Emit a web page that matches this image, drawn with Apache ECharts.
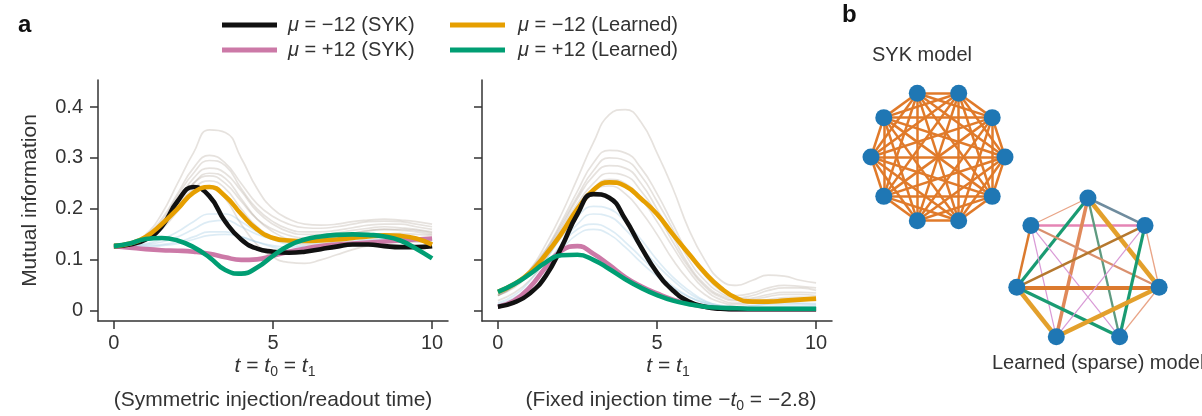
<!DOCTYPE html>
<html><head><meta charset="utf-8">
<script src="https://cdn.jsdelivr.net/npm/echarts@6/dist/echarts.min.js"></script>
<style>html,body{margin:0;padding:0;background:#fff}#c{width:1202px;height:416px}</style>
</head><body><div id="c"></div>
<script>
// ---------- data ----------
const tGrid = [0,0.5,1,1.5,2,2.5,3,3.5,4,4.5,5,5.5,6,6.5,7,7.5,8,8.5,9,9.5,10];
const xTicks = [0,5,10];
const yTicks = [0,0.1,0.2,0.3,0.4];
const seriesNames = ['μ = −12 (SYK)','μ = −12 (Learned)','μ = +12 (SYK)','μ = +12 (Learned)'];

// panel a, left: symmetric injection/readout time
const leftSykNeg   = [0.127,0.130,0.140,0.165,0.215,0.243,0.225,0.175,0.140,0.122,0.116,0.114,0.116,0.121,0.126,0.130,0.130,0.127,0.125,0.125,0.127];
const leftLrnNeg   = [0.127,0.132,0.145,0.170,0.200,0.232,0.243,0.225,0.190,0.160,0.143,0.138,0.137,0.138,0.140,0.143,0.146,0.148,0.147,0.142,0.130];
const leftSykPos   = [0.127,0.124,0.121,0.119,0.118,0.116,0.112,0.105,0.100,0.101,0.108,0.116,0.122,0.127,0.130,0.132,0.134,0.136,0.138,0.140,0.142];
const leftLrnPos   = [0.127,0.132,0.141,0.143,0.138,0.125,0.105,0.080,0.073,0.085,0.108,0.128,0.140,0.146,0.149,0.150,0.149,0.146,0.138,0.122,0.103];
const leftGrayRuns = [
  [0.127,0.132,0.150,0.190,0.250,0.310,0.355,0.350,0.300,0.240,0.200,0.180,0.170,0.168,0.170,0.175,0.178,0.180,0.178,0.175,0.170],
  [0.127,0.132,0.148,0.180,0.230,0.280,0.305,0.290,0.250,0.210,0.185,0.170,0.163,0.162,0.165,0.170,0.175,0.176,0.175,0.170,0.165],
  [0.127,0.130,0.145,0.175,0.225,0.270,0.295,0.285,0.240,0.200,0.175,0.160,0.155,0.155,0.158,0.163,0.168,0.170,0.170,0.165,0.160],
  [0.127,0.130,0.143,0.170,0.215,0.260,0.280,0.270,0.235,0.195,0.170,0.155,0.150,0.150,0.153,0.158,0.162,0.165,0.163,0.160,0.155],
  [0.127,0.130,0.142,0.168,0.210,0.250,0.265,0.250,0.215,0.180,0.160,0.148,0.143,0.143,0.147,0.152,0.157,0.160,0.160,0.158,0.153],
  [0.127,0.130,0.140,0.165,0.205,0.240,0.255,0.240,0.200,0.165,0.145,0.135,0.130,0.130,0.135,0.140,0.145,0.150,0.152,0.150,0.148],
  [0.127,0.130,0.140,0.160,0.195,0.230,0.245,0.220,0.170,0.130,0.105,0.095,0.093,0.100,0.110,0.120,0.128,0.132,0.135,0.135,0.135],
  [0.127,0.130,0.140,0.165,0.210,0.250,0.270,0.260,0.220,0.180,0.155,0.140,0.135,0.138,0.145,0.152,0.158,0.160,0.158,0.155,0.150]
];
const leftBlueRuns = [
  [0.127,0.128,0.130,0.135,0.145,0.160,0.175,0.178,0.165,0.150,0.140,0.135,0.133,0.133,0.135,0.138,0.140,0.142,0.143,0.143,0.142],
  [0.127,0.127,0.128,0.130,0.135,0.145,0.155,0.155,0.145,0.135,0.128,0.125,0.125,0.127,0.130,0.133,0.135,0.137,0.138,0.138,0.137],
  [0.127,0.128,0.132,0.140,0.155,0.175,0.190,0.190,0.175,0.155,0.140,0.130,0.127,0.127,0.130,0.134,0.138,0.140,0.140,0.140,0.138],
  [0.127,0.126,0.126,0.128,0.132,0.140,0.148,0.150,0.145,0.135,0.125,0.120,0.120,0.123,0.128,0.132,0.135,0.138,0.140,0.140,0.140]
];

// panel a, right: fixed injection time
const rightSykNeg  = [0.008,0.016,0.034,0.068,0.125,0.190,0.229,0.222,0.180,0.125,0.075,0.040,0.018,0.008,0.004,0.003,0.003,0.003,0.003,0.003,0.003];
const rightLrnNeg  = [0.037,0.052,0.075,0.110,0.152,0.200,0.237,0.252,0.245,0.220,0.190,0.150,0.112,0.075,0.045,0.025,0.018,0.018,0.020,0.022,0.024];
const rightSykPos  = [0.008,0.020,0.046,0.085,0.118,0.127,0.112,0.090,0.066,0.048,0.034,0.022,0.014,0.008,0.005,0.003,0.003,0.003,0.003,0.003,0.003];
const rightLrnPos  = [0.037,0.052,0.072,0.095,0.109,0.110,0.100,0.082,0.062,0.045,0.031,0.020,0.013,0.008,0.006,0.005,0.004,0.004,0.004,0.004,0.004];
const rightGrayRuns = [
  [0.030,0.050,0.080,0.130,0.190,0.260,0.330,0.385,0.395,0.370,0.310,0.240,0.160,0.100,0.060,0.050,0.060,0.070,0.068,0.060,0.055],
  [0.030,0.050,0.080,0.120,0.175,0.235,0.290,0.315,0.310,0.280,0.230,0.170,0.110,0.070,0.040,0.030,0.035,0.045,0.050,0.048,0.045],
  [0.030,0.048,0.078,0.118,0.170,0.225,0.275,0.300,0.295,0.265,0.215,0.160,0.100,0.060,0.035,0.025,0.030,0.040,0.045,0.045,0.040],
  [0.030,0.047,0.075,0.115,0.165,0.220,0.265,0.285,0.280,0.250,0.200,0.145,0.090,0.052,0.030,0.022,0.025,0.032,0.036,0.036,0.035],
  [0.035,0.050,0.077,0.113,0.160,0.210,0.250,0.270,0.265,0.235,0.190,0.135,0.085,0.048,0.027,0.020,0.022,0.028,0.032,0.032,0.030],
  [0.030,0.045,0.072,0.108,0.155,0.200,0.240,0.258,0.250,0.220,0.175,0.125,0.078,0.042,0.022,0.015,0.017,0.022,0.026,0.027,0.026],
  [0.020,0.035,0.060,0.100,0.150,0.200,0.235,0.245,0.230,0.195,0.150,0.100,0.060,0.032,0.017,0.012,0.015,0.020,0.022,0.022,0.020]
];
const rightBlueRuns = [
  [0.010,0.022,0.045,0.085,0.130,0.170,0.190,0.185,0.160,0.125,0.090,0.060,0.035,0.018,0.010,0.008,0.010,0.012,0.013,0.013,0.012],
  [0.012,0.025,0.050,0.090,0.130,0.160,0.170,0.160,0.135,0.105,0.075,0.048,0.028,0.015,0.008,0.006,0.007,0.008,0.009,0.009,0.009],
  [0.015,0.030,0.058,0.100,0.145,0.185,0.205,0.200,0.175,0.140,0.100,0.066,0.040,0.020,0.010,0.008,0.010,0.014,0.016,0.015,0.014],
  [0.010,0.022,0.045,0.080,0.120,0.150,0.160,0.150,0.125,0.095,0.068,0.045,0.027,0.015,0.008,0.005,0.005,0.006,0.007,0.007,0.007]
];

// panel b: node angles (degrees) and edges
const sykNodeAngles = [0,36,72,108,144,180,216,252,288,324];
const learnedNodeAngles = [90,38.57,-12.86,-64.29,-115.71,-167.14,141.43];
const learnedEdges = [
  [0,1,'slate'],[0,6,'salmon'],[6,1,'pink'],[0,5,'green'],[0,4,'orangeL'],[0,3,'greenM'],[0,2,'gold'],
  [6,2,'salmonM'],[6,5,'orangeM'],[6,3,'lilac'],[6,4,'lilac'],[5,1,'olive'],[5,2,'orange'],[5,4,'gold'],
  [5,3,'green'],[1,3,'green'],[1,4,'lilac'],[1,2,'salmon'],[4,2,'gold'],[3,2,'salmon']
];

// ---------- styles ----------
const FONT = "'Liberation Sans', Arial, Helvetica, sans-serif";
const TXT = '#333';
const C = {sykNeg:'#111111', lrnNeg:'#E69F00', sykPos:'#CC79A7', lrnPos:'#009E73'};
const NODE = '#1F77B4';
const GRAY_RUN = 'rgba(165,150,135,0.28)';
const BLUE_RUN = 'rgba(150,195,225,0.32)';
const edgeStyles = {
  orange:{color:'#DB7A2E',width:4}, orangeM:{color:'#DB7A2E',width:2.5}, orangeL:{color:'#E0895A',width:3.5},
  gold:{color:'#E3A02C',width:4.5}, green:{color:'#1A9B72',width:3.2}, greenM:{color:'#5E9A80',width:2.3},
  pink:{color:'#E584B4',width:2.5}, lilac:{color:'#D99AD6',width:1.2}, salmon:{color:'#E9A486',width:1.3},
  salmonM:{color:'#D9906E',width:2.2}, slate:{color:'#6F8C9E',width:2.5}, olive:{color:'#B5782E',width:2.5}
};

function mk(name, gi, vals, color, width, z) {
  return {type:'line', name:name, xAxisIndex:gi, yAxisIndex:gi,
    data: tGrid.map((t,i)=>[t, vals[i]]), smooth:true, symbol:'none', showSymbol:false,
    lineStyle:{color:color, width:width}, itemStyle:{color:color}, z:z, silent:true,
    emphasis:{disabled:true}};
}
const series = [];
leftGrayRuns.forEach(v=>series.push(mk('', 0, v, GRAY_RUN, 1.7, 1)));
leftBlueRuns.forEach(v=>series.push(mk('', 0, v, BLUE_RUN, 1.7, 1)));
rightGrayRuns.forEach(v=>series.push(mk('', 1, v, GRAY_RUN, 1.7, 1)));
rightBlueRuns.forEach(v=>series.push(mk('', 1, v, BLUE_RUN, 1.7, 1)));
series.push(mk(seriesNames[2], 0, leftSykPos, C.sykPos, 4.6, 3));
series.push(mk(seriesNames[0], 0, leftSykNeg, C.sykNeg, 4.6, 4));
series.push(mk(seriesNames[1], 0, leftLrnNeg, C.lrnNeg, 4.6, 5));
series.push(mk(seriesNames[3], 0, leftLrnPos, C.lrnPos, 4.6, 6));
series.push(mk(seriesNames[2], 1, rightSykPos, C.sykPos, 4.6, 3));
series.push(mk(seriesNames[1], 1, rightLrnNeg, C.lrnNeg, 4.6, 4));
series.push(mk(seriesNames[0], 1, rightSykNeg, C.sykNeg, 4.6, 5));
series.push(mk(seriesNames[3], 1, rightLrnPos, C.lrnPos, 4.6, 6));

// panel b: nodes on unit circles (angles -> cos/sin), placed through hidden cartesian axes
const rad = d => d*Math.PI/180;
const sykPts = sykNodeAngles.map(a=>[Math.cos(rad(a)), Math.sin(rad(a))]);
const lrnPts = learnedNodeAngles.map(a=>[Math.cos(rad(a)), Math.sin(rad(a))]);
const sykLinks = [];
for (let i=0;i<sykPts.length;i++) for (let j=i+1;j<sykPts.length;j++)
  sykLinks.push({coords:[sykPts[i], sykPts[j]]});
const lrnLinks = learnedEdges.map(e=>({coords:[lrnPts[e[0]], lrnPts[e[1]]],
  lineStyle:Object.assign({opacity:1}, edgeStyles[e[2]])}));

series.push({type:'lines', coordinateSystem:'cartesian2d', xAxisIndex:2, yAxisIndex:2, silent:true, clip:false,
  lineStyle:{color:'#E07A2A', width:2.5, opacity:1}, data:sykLinks, z:2});
series.push({type:'scatter', xAxisIndex:2, yAxisIndex:2, silent:true, clip:false, symbolSize:17,
  itemStyle:{color:NODE, opacity:1}, data:sykPts, z:3});
series.push({type:'lines', coordinateSystem:'cartesian2d', xAxisIndex:3, yAxisIndex:3, silent:true, clip:false,
  lineStyle:{width:2, opacity:1}, data:lrnLinks, z:2});
series.push({type:'scatter', xAxisIndex:3, yAxisIndex:3, silent:true, clip:false, symbolSize:17,
  itemStyle:{color:NODE, opacity:1}, data:lrnPts, z:3});

function xAx(gi){
  return {gridIndex:gi, type:'value', min:-0.5, max:10.5,
    axisLine:{show:true, onZero:false, lineStyle:{color:TXT, width:1.5}},
    axisTick:{show:true, inside:false, length:8, customValues:xTicks, lineStyle:{color:TXT, width:1.5}},
    axisLabel:{show:true, customValues:xTicks, margin:12, fontSize:20, color:TXT, fontFamily:FONT},
    splitLine:{show:false}};
}
function yAx(gi, showLabels){
  const o = {gridIndex:gi, type:'value', min:-0.02, max:0.453,
    axisLine:{show:true, onZero:false, lineStyle:{color:TXT, width:1.5}},
    axisTick:{show:true, inside:false, length:8, customValues:yTicks, lineStyle:{color:TXT, width:1.5}},
    axisLabel:{show:showLabels, customValues:yTicks, margin:15, fontSize:20, color:TXT, fontFamily:FONT,
      formatter:v=> v===0 ? '0' : v.toFixed(1)},
    splitLine:{show:false}};
  if (showLabels) Object.assign(o, {name:'Mutual information', nameLocation:'middle', nameGap:57,
    nameTextStyle:{fontSize:21, color:TXT, fontFamily:FONT}});
  return o;
}
function hiddenAx(gi, min, max){
  return {gridIndex:gi, type:'value', min:min, max:max, show:false, splitLine:{show:false}};
}

const legendBase = {orient:'vertical', itemWidth:55, itemHeight:5, itemGap:5, icon:'rect', selectedMode:false, padding:0,
  formatter: n => '{i|μ}' + n.slice(1)};
function legendText(pad){
  return {fontSize:20, color:TXT, fontFamily:FONT, lineHeight:20, padding:[0,0,0,pad],
    rich:{i:{fontStyle:'italic', fontSize:20, color:TXT, fontFamily:FONT}}};
}

const subRich = {
  i:{fontStyle:'italic', fontSize:21, fontFamily:FONT, fill:TXT, lineHeight:26},
  s:{fontSize:14, fontFamily:FONT, fill:TXT, lineHeight:14, padding:[12,0,0,0]},
  n:{fontSize:21, fontFamily:FONT, fill:TXT, lineHeight:26}
};
function gtext(x, y, text, extra){
  return {type:'text', x:x, y:y, silent:true, z:10,
    style:Object.assign({text:text, fontSize:21, fontFamily:FONT, fill:TXT, align:'center', verticalAlign:'middle'}, extra||{})};
}

const option = {
  animation:false,
  backgroundColor:'#fff',
  grid:[
    {left:98, top:80, width:350, height:241, containLabel:false, outerBoundsMode:'none'},
    {left:482, top:80, width:350, height:241, containLabel:false, outerBoundsMode:'none'},
    {left:871, top:93.3, width:134, height:127.4, containLabel:false, outerBoundsMode:'none'},
    {left:1016.8, top:198, width:142.3, height:138.8, containLabel:false, outerBoundsMode:'none'}
  ],
  xAxis:[xAx(0), xAx(1), hiddenAx(2,-1,1), hiddenAx(3,-0.9749,0.9749)],
  yAxis:[yAx(0,true), yAx(1,false), hiddenAx(2,-0.9511,0.9511), hiddenAx(3,-0.901,1)],
  legend:[
    Object.assign({left:222, top:15, data:[seriesNames[0], seriesNames[2]], textStyle:legendText(6)}, legendBase),
    Object.assign({left:450, top:15, data:[seriesNames[1], seriesNames[3]], textStyle:legendText(8)}, legendBase)
  ],
  graphic:[
    gtext(18, 25, 'a', {fontSize:24, fontWeight:'bold', align:'left', fill:'#111'}),
    gtext(842, 15, 'b', {fontSize:24, fontWeight:'bold', align:'left', fill:'#111'}),
    gtext(872, 55, 'SYK model', {fontSize:20, align:'left'}),
    gtext(992, 363, 'Learned (sparse) model', {fontSize:20, align:'left'}),
    gtext(275, 366, '{i|t}{n| = }{i|t}{s|0}{n| = }{i|t}{s|1}', {rich:subRich}),
    gtext(273, 400, '(Symmetric injection/readout time)'),
    gtext(668, 366, '{i|t}{n| = }{i|t}{s|1}', {rich:subRich}),
    gtext(671, 400, '{n|(Fixed injection time −}{i|t}{s|0}{n| = −2.8)}', {rich:subRich})
  ],
  series:series
};
const chart = echarts.init(document.getElementById('c'), null, {renderer:'canvas'});
chart.setOption(option);
</script>
</body></html>
